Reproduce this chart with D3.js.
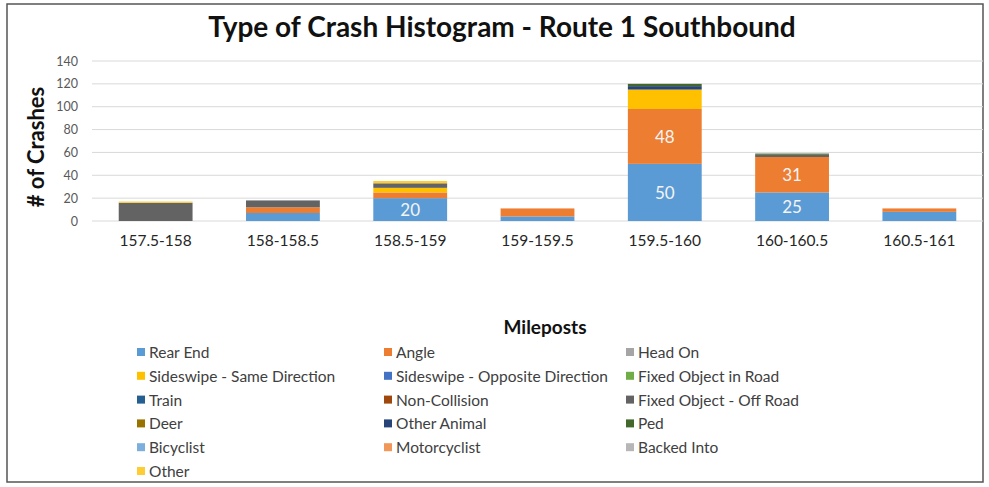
<!DOCTYPE html>
<html lang="en">
<head>
    <meta charset="utf-8">
    <title>Type of Crash Histogram</title>
    <style>
        body{ margin:0; background:#fff; font-family: Lato, "Open Sans", sans-serif;}
    </style>
    <script type="text/javascript" src="https://d3js.org/d3.v7.min.js"></script>
</head>
<body>
    <div class="chart"></div>
    <script type="text/javascript">
        // mileposts (x categories)
        var mileposts = ["157.5-158", "158-158.5", "158.5-159", "159-159.5", "159.5-160", "160-160.5", "160.5-161"];

        // crash types, in stacking / legend order
        var crashTypes = ["Rear End", "Angle", "Head On", "Sideswipe - Same Direction", "Sideswipe - Opposite Direction",
            "Fixed Object in Road", "Train", "Non-Collision", "Fixed Object - Off Road", "Deer", "Other Animal", "Ped",
            "Bicyclist", "Motorcyclist", "Backed Into", "Other"];

        var typeColors = ["#5B9BD5", "#ED7D31", "#A5A5A5", "#FFC000", "#4472C4", "#70AD47", "#255E91", "#9E480E",
            "#636363", "#997300", "#264478", "#43682B", "#7CAFDD", "#F1975A", "#B7B7B7", "#FFCD33"];

        // counts per milepost for each crash type
        var rearEnd      = [0, 7, 20, 4, 50, 25, 8];
        var angle        = [0, 5, 5, 7, 48, 31, 3];
        var headOn       = [0, 0, 0, 0, 0, 0, 0];
        var sideswipeSame = [0, 0, 4, 0, 17, 0, 0];
        var sideswipeOpp = [0, 0, 0, 0, 0, 0, 0];
        var fixedInRoad  = [0, 0, 0, 0, 0, 0, 0];
        var train        = [0, 0, 0, 0, 0, 0, 0];
        var nonCollision = [0, 0, 0, 0, 0, 0, 0];
        var fixedOffRoad = [16, 6, 4, 0, 0, 2, 0];
        var deer         = [0, 0, 0, 0, 0, 0, 0];
        var otherAnimal  = [0, 0, 0, 0, 3, 0, 0];
        var ped          = [0, 0, 0, 0, 2, 1, 0];
        var bicyclist    = [0, 0, 0, 0, 0, 0, 0];
        var motorcyclist = [0, 0, 0, 0, 0, 0, 0];
        var backedInto   = [0, 0, 0, 0, 0, 0, 0];
        var other        = [1, 0, 2, 0, 0, 0, 0];

        var seriesValues = [rearEnd, angle, headOn, sideswipeSame, sideswipeOpp, fixedInRoad, train, nonCollision,
            fixedOffRoad, deer, otherAnimal, ped, bicyclist, motorcyclist, backedInto, other];

        // only these segments carry a data label
        var labelled = ["Rear End", "Angle"];
        var labelMin = 20;

        var yTicks = [0, 20, 40, 60, 80, 100, 120, 140];

        const W = 989, H = 487;

        var rows = mileposts.map((m, i) => {
            var r = {milepost: m};
            crashTypes.forEach((t, j) => r[t] = seriesValues[j][i]);
            return r;
        });

        var stacked = d3.stack().keys(crashTypes)(rows);

        const xScale = d3.scaleBand()
            .domain(mileposts)
            .range([92, 983])
            .paddingInner(0.42)
            .paddingOuter(0.21);

        const yScale = d3.scaleLinear()
            .domain([0, 140])
            .range([221, 61]);

        const colorScale = d3.scaleOrdinal()
            .domain(crashTypes)
            .range(typeColors);

        var svg = d3.select('.chart')
            .append('svg')
            .attr('width', W)
            .attr('height', H);

        // outer frame
        svg.append('rect')
            .attr('x', 7).attr('y', 4)
            .attr('width', 976).attr('height', 478)
            .attr('fill', '#fff')
            .attr('stroke', '#555')
            .attr('stroke-width', 1.5);

        svg.append('text')
            .attr('x', 502)
            .attr('y', 37)
            .attr('text-anchor', 'middle')
            .attr('font-size', 28)
            .attr('font-weight', 'bold')
            .attr('fill', '#111')
            .text("Type of Crash Histogram - Route 1 Southbound");

        // gridlines
        svg.append('g')
            .selectAll('line')
            .data(yTicks)
            .enter()
            .append('line')
            .attr('x1', 92).attr('x2', 983)
            .attr('y1', d => yScale(d)).attr('y2', d => yScale(d))
            .attr('stroke', '#d9d9d9')
            .attr('stroke-width', 1);

        const yAxis = d3.axisLeft(yScale)
            .tickValues(yTicks)
            .tickSize(0)
            .tickPadding(0);

        var yAxisDisplay = svg.append('g')
            .attr('transform', 'translate(78,0)')
            .call(yAxis);
        yAxisDisplay.select('.domain').remove();
        yAxisDisplay.selectAll('text')
            .attr('font-size', 12.5)
            .attr('font-family', 'Lato, sans-serif')
            .attr('fill', '#595959');

        const xAxis = d3.axisBottom(xScale)
            .tickSize(0)
            .tickPadding(0);

        var xAxisDisplay = svg.append('g')
            .attr('transform', 'translate(0,235)')
            .call(xAxis);
        xAxisDisplay.select('.domain').remove();
        xAxisDisplay.selectAll('text')
            .attr('font-size', 15.5)
            .attr('font-family', 'Lato, sans-serif')
            .attr('fill', '#262626');

        // stacked bars
        var layers = svg.append('g')
            .selectAll('g')
            .data(stacked)
            .enter()
            .append('g')
            .attr('fill', d => colorScale(d.key));

        layers.selectAll('rect')
            .data(d => d)
            .enter()
            .append('rect')
            .attr('x', d => xScale(d.data.milepost))
            .attr('y', d => yScale(d[1]))
            .attr('width', xScale.bandwidth())
            .attr('height', d => yScale(d[0]) - yScale(d[1]));

        // data labels
        var labelData = [];
        stacked.forEach(s => {
            if (labelled.indexOf(s.key) < 0) return;
            s.forEach(d => {
                var v = d[1] - d[0];
                if (v >= labelMin) labelData.push({milepost: d.data.milepost, y0: d[0], y1: d[1], v: v});
            });
        });

        svg.append('g')
            .selectAll('text')
            .data(labelData)
            .enter()
            .append('text')
            .attr('x', d => xScale(d.milepost) + xScale.bandwidth() / 2)
            .attr('y', d => yScale((d.y0 + d.y1) / 2))
            .attr('text-anchor', 'middle')
            .attr('dominant-baseline', 'central')
            .attr('font-size', 17)
            .attr('fill', '#f4f4f4')
            .text(d => d.v);

        // axis titles
        svg.append('text')
            .attr('transform', 'translate(44,147) rotate(-90)')
            .attr('text-anchor', 'middle')
            .attr('font-size', 22)
            .attr('font-weight', 'bold')
            .attr('fill', '#111')
            .text("# of Crashes");

        svg.append('text')
            .attr('x', 545)
            .attr('y', 334)
            .attr('text-anchor', 'middle')
            .attr('font-size', 19)
            .attr('font-weight', 'bold')
            .attr('fill', '#111')
            .text("Mileposts");

        // legend, 3 columns, row-major
        var colX = [137, 384, 626];
        var rowY0 = 352, rowStep = 23.8;
        var legend = svg.append('g')
            .selectAll('g')
            .data(crashTypes)
            .enter()
            .append('g')
            .attr('transform', (d, i) => 'translate(' + colX[i % 3] + ',' + (rowY0 + Math.floor(i / 3) * rowStep) + ')');

        legend.append('rect')
            .attr('x', 0).attr('y', -4)
            .attr('width', 8).attr('height', 8)
            .attr('fill', d => colorScale(d));

        legend.append('text')
            .attr('x', 12)
            .attr('y', 0)
            .attr('dominant-baseline', 'central')
            .attr('font-size', 15.5)
            .attr('fill', '#404040')
            .text(d => d);
    </script>
</body>
</html>
